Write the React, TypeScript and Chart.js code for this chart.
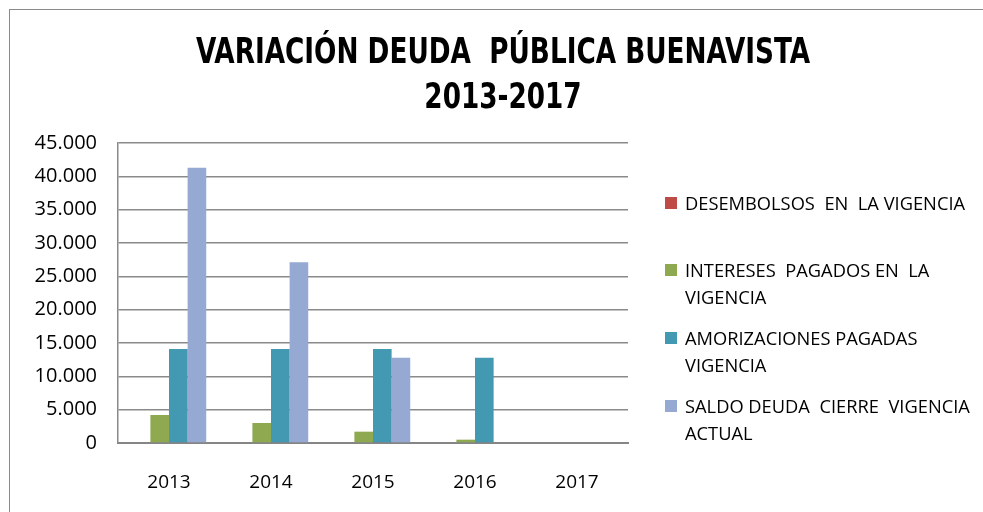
import React, { useEffect, useRef } from "react";
import { Chart, registerables } from "chart.js";
Chart.register(...registerables);

const years = ["2013", "2014", "2015", "2016", "2017"];
const desembolsos = [0, 0, 0, 0, 0];
const intereses = [4200, 3000, 1700, 500, 0];
const amortizaciones = [14100, 14100, 14100, 12800, 0];
const saldo = [41300, 27100, 12800, 0, 0];
const seriesNames = [
  "DESEMBOLSOS EN LA VIGENCIA",
  "INTERESES PAGADOS EN LA VIGENCIA",
  "AMORIZACIONES PAGADAS VIGENCIA",
  "SALDO DEUDA CIERRE VIGENCIA ACTUAL",
];
const legendLines = [
  ["DESEMBOLSOS  EN  LA VIGENCIA"],
  ["INTERESES  PAGADOS EN  LA", "VIGENCIA"],
  ["AMORIZACIONES PAGADAS", "VIGENCIA"],
  ["SALDO DEUDA  CIERRE  VIGENCIA", "ACTUAL"],
];
const seriesColors = ["#BE4B48", "#8EA94F", "#4399B1", "#95A9D2"];
const titleLines = ["VARIACIÓN DEUDA  PÚBLICA BUENAVISTA", "2013-2017"];
const yMax = 45000;
const yStep = 5000;

const FONT = "'Open Sans', 'DejaVu Sans', sans-serif";

function fmt(v: number) {
  return String(v).replace(/\B(?=(\d{3})+(?!\d))/g, ".");
}

export default function App() {
  const ref = useRef<HTMLCanvasElement | null>(null);
  useEffect(() => {
    document.body.style.margin = "0";
    const ctx = ref.current!.getContext("2d")!;
    const chart = new Chart(ctx, {
      type: "bar",
      data: {
        labels: years,
        datasets: [desembolsos, intereses, amortizaciones, saldo].map((d, i) => ({
          label: seriesNames[i],
          data: d,
          backgroundColor: seriesColors[i],
          borderWidth: 0,
          categoryPercentage: 0.73,
          barPercentage: 1,
        })),
      },
      options: {
        animation: false,
        responsive: false,
        maintainAspectRatio: false,
        layout: { padding: { left: 0, right: 355, top: 143, bottom: 0 } },
        plugins: { legend: { display: false }, title: { display: false }, tooltip: { enabled: false } },
        scales: {
          x: {
            grid: { display: false, drawTicks: false },
            border: { display: true, color: "#858585", width: 2 },
            ticks: { color: "#000", font: { family: FONT, size: 19 }, padding: 28 },
            afterFit: (s: any) => { s.height = 69; },
          },
          y: {
            min: 0,
            max: yMax,
            grid: { color: "#8a8a8a", lineWidth: 1.5, drawTicks: false },
            border: { display: true, color: "#8a8a8a", width: 1.5 },
            ticks: {
              stepSize: yStep,
              color: "#000",
              font: { family: FONT, size: 20 },
              padding: 21,
              callback: (v: any) => fmt(Number(v)),
            },
            afterFit: (s: any) => { s.width = 118; },
          },
        },
      },
    });
    return () => chart.destroy();
  }, []);

  return (
    <div style={{ position: "relative", width: 983, height: 512, overflow: "hidden", background: "#fff" }}>
      <div style={{ position: "absolute", left: 9, top: 9, width: 1020, height: 540, border: "1.5px solid #8a8a8a" }} />
      <canvas ref={ref} width={983} height={512} style={{ position: "absolute", left: 0, top: 0 }} />
      <div
        style={{
          position: "absolute",
          left: 0,
          width: 1006,
          top: 29,
          textAlign: "center",
          fontFamily: "'DejaVu Sans Condensed', 'DejaVu Sans', sans-serif",
          fontWeight: "bold",
          fontSize: 35,
          lineHeight: "45px",
          color: "#000",
          whiteSpace: "pre",
          transform: "scaleX(0.835)",
          transformOrigin: "503px 0",
        }}
      >
        {titleLines.map((t, i) => (
          <div key={i}>{t}</div>
        ))}
      </div>
      {legendLines.map((lines, i) => {
        const tops = [189, 256, 324, 392];
        return (
          <div key={i} style={{ position: "absolute", left: 665, top: tops[i], fontFamily: FONT, fontSize: 18.3, lineHeight: "27px", color: "#000", whiteSpace: "pre" }}>
            <div style={{ position: "absolute", left: 0, top: 8, width: 12, height: 12, background: seriesColors[i] }} />
            <div style={{ marginLeft: 20 }}>
              {lines.map((l, j) => (
                <div key={j}>{l}</div>
              ))}
            </div>
          </div>
        );
      })}
    </div>
  );
}
